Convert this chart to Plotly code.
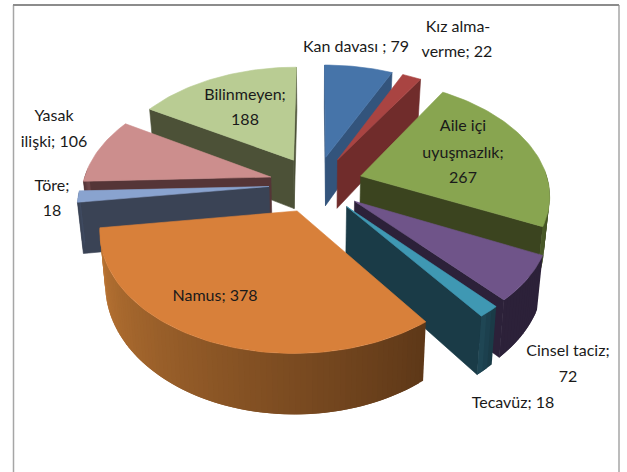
import math
import plotly.graph_objects as go

names = ["Kan davası", "Kız alma-verme", "Aile içi uyuşmazlık", "Cinsel taciz", "Tecavüz", "Namus", "Töre", "Yasak ilişki", "Bilinmeyen"]
values = [79, 22, 267, 72, 18, 378, 18, 106, 188]
label_lines = ["Kan davası ; 79", "Kız alma-", "verme; 22", "Aile içi", "uyuşmazlık;", "267", "Cinsel taciz;", "72", "Tecavüz; 18",
               "Namus; 378", "Töre;", "18", "Yasak", "ilişki; 106", "Bilinmeyen;", "188"]
label_x = [356, 458, 457, 463, 463, 463, 568, 568, 513, 215, 52, 52, 54, 54, 245, 245]
label_y = [48, 28, 53, 127, 154, 179, 352, 378, 404, 297, 187, 212, 117, 143, 96, 121]

top_colors = ["#4674A9", "#A94442", "#88A550", "#6F5489", "#3F98B3", "#D8803A", "#89A3CF", "#CC8E8D", "#B9CC93"]
wall_colors = ["#33547C", "#702C2B", "#3B441F", "#2C2139", "#1A3B47", "#5E3818", "#3A4355", "#553537", "#4C5137"]
rim_light = ["#4674A9", "#A94442", "#4A5A28", "#2C2139", "#1F4654", "#BC7634", "#3F4A60", "#6A4446", "#5A6040"]
rim_dark = ["#33547C", "#702C2B", "#3B441F", "#2C2139", "#1A3B47", "#5E3818", "#3A4355", "#553537", "#4C5137"]
draw_order = [8, 0, 1, 2, 3, 4, 7, 6, 5]

CX, CY, RX, RY, PERSP, EXPL, DEPTH, TAPER = 316, 184, 188, 113, 0.146, 0.25, 50, 0.975


def project(u, v, bottom=False):
    s = 1 / (1 + PERSP * v)
    x = RX * u * s
    y = CY - RY * v * s
    if bottom:
        return CX + x * TAPER, y + DEPTH * s
    return CX + x, y


def mix(a, b, t):
    ca = [int(a[i:i + 2], 16) for i in (1, 3, 5)]
    cb = [int(b[i:i + 2], 16) for i in (1, 3, 5)]
    return "#%02X%02X%02X" % tuple(round(p + (q - p) * t) for p, q in zip(ca, cb))


def poly(fig, pts, color, width=0.6):
    fig.add_trace(go.Scatter(x=[p[0] for p in pts] + [pts[0][0]], y=[p[1] for p in pts] + [pts[0][1]],
                             mode="lines", fill="toself", fillcolor=color,
                             line=dict(color=color, width=width), hoverinfo="skip", showlegend=False))


total = sum(values)
starts = []
acc = 0
for val in values:
    starts.append(acc / total * 2 * math.pi)
    acc += val

CAM = 1 / PERSP
fig = go.Figure()
for i in draw_order:
    t0 = starts[i]
    t1 = t0 + values[i] / total * 2 * math.pi
    tm = (t0 + t1) / 2
    ox, oy = EXPL * math.sin(tm), EXPL * math.cos(tm)
    n = max(3, int((t1 - t0) * 40))
    thetas = [t0 + (t1 - t0) * k / n for k in range(n + 1)]
    rim = [(ox + math.sin(t), oy + math.cos(t)) for t in thetas]

    for t, normal, end in ((t0, (-math.cos(t0), math.sin(t0)), rim[0]), (t1, (math.cos(t1), -math.sin(t1)), rim[-1])):
        facing = normal[0] * (0 - ox) + normal[1] * (-CAM - oy)
        if facing > 0:
            poly(fig, [project(ox, oy), project(*end), project(*end, True), project(ox, oy, True)], wall_colors[i])
    # outer wall: strips overlap the next one so no seams show; light on the left, dark on the right
    visible = [k for k in range(n) if math.cos((thetas[k] + thetas[k + 1]) / 2) < 0.05]
    for j, k in enumerate(visible):
        k2 = min(k + 2, n)
        strip = [rim[q] for q in range(k, k2 + 1)]
        pts = [project(*p) for p in strip] + [project(*p, True) for p in reversed(strip)]
        frac = j / max(1, len(visible) - 1)
        poly(fig, pts, mix(rim_dark[i], rim_light[i], frac), width=0)
    poly(fig, [project(ox, oy)] + [project(*p) for p in rim], top_colors[i])

fig.add_trace(go.Scatter(x=label_x, y=label_y, mode="text", text=label_lines,
                         textfont=dict(family="Lato", size=16, color="#1A1A1A"),
                         hoverinfo="skip", showlegend=False))

fig.update_layout(width=627, height=472, margin=dict(l=0, r=0, t=0, b=0), paper_bgcolor="white", plot_bgcolor="white",
                  xaxis=dict(range=[0, 627], visible=False, fixedrange=True),
                  yaxis=dict(range=[472, 0], visible=False, fixedrange=True),
                  shapes=[dict(type="line", x0=13.5, x1=13.5, y0=5, y1=472, line=dict(color="#A6A6A6", width=1.5)),
                          dict(type="line", x0=619, x1=619, y0=5, y1=472, line=dict(color="#A6A6A6", width=1.5)),
                          dict(type="line", x0=13, x1=619, y0=5, y1=5, line=dict(color="#8C8C8C", width=2))])
fig.write_html("out.html", config=dict(displayModeBar=False),
               post_script="document.body.style.margin='0';document.body.style.overflow='hidden';")
